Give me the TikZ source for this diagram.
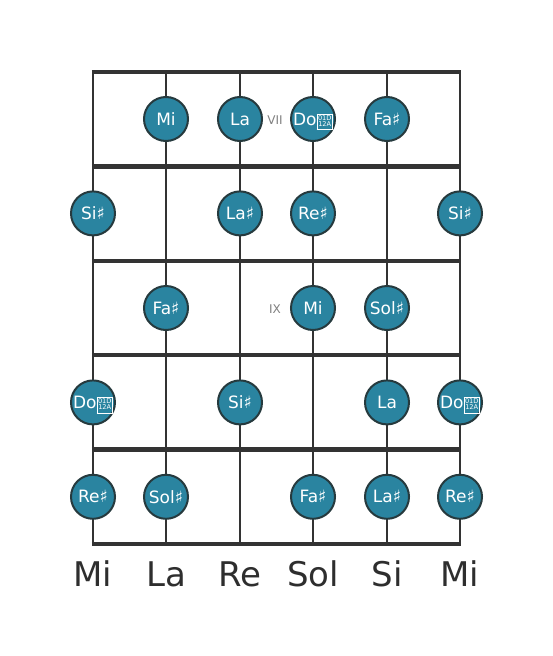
\documentclass[tikz,border=0pt]{standalone}
\usepackage{fontspec}
\setmainfont{DejaVu Sans}
\definecolor{notefill}{HTML}{2A84A0}
\definecolor{noteline}{HTML}{263A3E}
\definecolor{boardline}{HTML}{333333}
\definecolor{labelgray}{HTML}{808080}
\newcommand{\dsharpbox}{{\setlength{\fboxsep}{1pt}\setlength{\fboxrule}{0.5pt}\raisebox{-1.2pt}[0pt][0pt]{\fbox{\fontsize{6.6}{7}\selectfont\begin{tabular}[b]{@{}c@{}}01D\\[-0.8pt]12A\end{tabular}}}}}
\begin{document}
\begin{tikzpicture}[x=1pt,y=-1pt,
  stringline/.style={boardline,line width=2.2pt},
  fretline/.style={boardline,line width=4.5pt},
  note/.style={circle,fill=notefill,draw=noteline,line width=2pt,minimum size=44pt,inner sep=0pt,text=white,font=\fontsize{17}{17}\selectfont},
  fretlabel/.style={text=labelgray,font=\fontsize{12}{12}\selectfont},
  strlabel/.style={text=boardline!90!black,font=\fontsize{34}{34}\selectfont}]
\useasboundingbox (0,0) rectangle (553,656);
% coordinates
\foreach \i/\x in {1/93,2/166,3/240,4/313,5/387,6/460}{
  \coordinate (t\i) at (\x,72);
  \coordinate (b\i) at (\x,544);
}
\foreach \i in {1,...,6}{\draw[stringline] (t\i) -- (b\i);}
\foreach \j/\y in {0/72,1/166.4,2/260.8,3/355.2,4/449.6,5/544}{
  \coordinate (fl\j) at (93,\y);
  \coordinate (fr\j) at (460,\y);
}
\foreach \j in {0,...,5}{\draw[fretline] ([xshift=-1.1pt]fl\j) -- ([xshift=1.1pt]fr\j);}
% notes
\node[note] (n11) at (166,119) {Mi};
\node[note] (n12) at (240,119) {La};
\node[note] (n13) at (313,119) {Do\dsharpbox};
\node[note] (n14) at (387,119) {Fa♯};
\node[fretlabel] (f7) at (275,120) {VII};
\node[note] (n21) at (93,213.4) {Si♯};
\node[note] (n22) at (240,213.4) {La♯};
\node[note] (n23) at (313,213.4) {Re♯};
\node[note] (n24) at (460,213.4) {Si♯};
\node[note] (n31) at (166,308) {Fa♯};
\node[fretlabel] (f9) at (275,309) {IX};
\node[note] (n32) at (313,308) {Mi};
\node[note] (n33) at (387,308) {Sol♯};
\node[note] (n41) at (93,402.4) {Do\dsharpbox};
\node[note] (n42) at (240,402.4) {Si♯};
\node[note] (n43) at (387,402.4) {La};
\node[note] (n44) at (460,402.4) {Do\dsharpbox};
\node[note] (n51) at (93,496.8) {Re♯};
\node[note] (n52) at (166,496.8) {Sol♯};
\node[note] (n53) at (313,496.8) {Fa♯};
\node[note] (n54) at (387,496.8) {La♯};
\node[note] (n55) at (460,496.8) {Re♯};
% string names
\node[strlabel] (s1) at (93,574) {Mi};
\node[strlabel] (s2) at (166,574) {La};
\node[strlabel] (s3) at (240,574) {Re};
\node[strlabel] (s4) at (313,574) {Sol};
\node[strlabel] (s5) at (387,574) {Si};
\node[strlabel] (s6) at (460,574) {Mi};
\end{tikzpicture}
\end{document}
